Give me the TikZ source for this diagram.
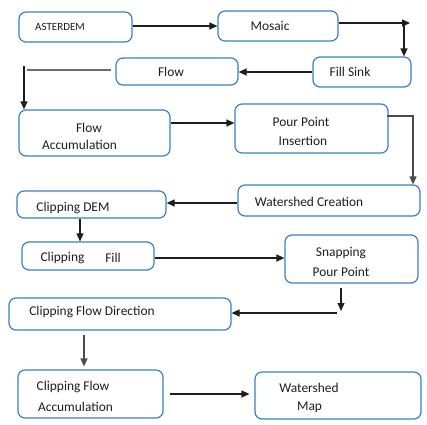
\documentclass[tikz,border=0pt]{standalone}
\usepackage{fontspec}
\setmainfont{Carlito}
\usetikzlibrary{arrows.meta}
\definecolor{boxblue}{HTML}{3A80C2}
\definecolor{ink}{HTML}{1E1E1E}
\tikzset{
  box/.style={draw=boxblue, line width=1.2pt, rounded corners=7pt, fill=white, inner sep=0pt},
  txt/.style={text=ink, inner sep=0pt, font=\fontsize{13.4}{16}\selectfont},
  small/.style={text=ink, inner sep=0pt, font=\fontsize{11}{13}\selectfont},
  arr/.style={draw=ink, line width=1.2pt, -{Triangle[length=8pt,width=7pt]}},
  ln/.style={draw=ink!80, line width=1.2pt}
}
\begin{document}
\begin{tikzpicture}[x=1pt,y=-1pt]
\useasboundingbox (0,0) rectangle (427,424);
% boxes
\node[box, minimum width=113pt, minimum height=30pt] (ast) at (75.5,27) {};
\node[box, minimum width=120pt, minimum height=30pt] (mos) at (278,26) {};
\node[box, minimum width=98pt, minimum height=30pt] (fs) at (362,72) {};
\node[box, minimum width=122pt, minimum height=27pt] (flow) at (177,71.5) {};
\node[box, minimum width=151pt, minimum height=46pt] (fa) at (94.5,133) {};
\node[box, minimum width=153pt, minimum height=49pt] (ppi) at (311.5,128.5) {};
\node[box, minimum width=182pt, minimum height=31pt] (wc) at (329,200.5) {};
\node[box, minimum width=149pt, minimum height=27pt] (cdem) at (91.5,204.5) {};
\node[box, minimum width=132pt, minimum height=28pt] (cf) at (88,256) {};
\node[box, minimum width=133pt, minimum height=48pt] (spp) at (351.5,259) {};
\node[box, minimum width=222pt, minimum height=32pt] (cfd) at (120,314) {};
\node[box, minimum width=145pt, minimum height=48pt] (cfa) at (90.5,394) {};
\node[box, minimum width=166pt, minimum height=47pt] (wm) at (338,395.5) {};
% texts
\node[small] (tast) at (60,26.5) {ASTERDEM};
\node[txt] (tmos) at (270,26) {Mosaic};
\node[txt] (tfs) at (350,72) {Fill Sink};
\node[txt] (tflow) at (171,72) {Flow};
\node[txt] (tfa1) at (89,128) {Flow};
\node[txt] (tfa2) at (79.5,145) {Accumulation};
\node[txt] (tppi1) at (301,122) {Pour Point};
\node[txt] (tppi2) at (303,141) {Insertion};
\node[txt] (twc) at (309,202) {Watershed Creation};
\node[txt] (tcdem) at (73,208) {Clipping DEM};
\node[txt] (tcf1) at (62.5,258) {Clipping};
\node[txt] (tcf2) at (113,258) {Fill};
\node[txt] (tspp1) at (341,253) {Snapping};
\node[txt] (tspp2) at (341,272) {Pour Point};
\node[txt] (tcfd) at (92,312) {Clipping Flow Direction};
\node[txt] (tcfa1) at (73,387) {Clipping Flow};
\node[txt] (tcfa2) at (75.5,407) {Accumulation};
\node[txt] (twm1) at (309,388) {Watershed};
\node[txt] (twm2) at (309.5,407) {Map};
% connectors
\draw[arr] (ast.east |- 0,26) -- (mos.west |- 0,26);
\coordinate (m1) at (410,23);
\coordinate (m2) at (404,23);
\draw[arr] (mos.east |- 0,23) -- (m1);
\draw[arr] (m2) -- (fs.north -| m2);
\draw[arr] (fs.west |- 0,72) -- (flow.east |- 0,72);
\coordinate (f1) at (27,70);
\coordinate (f2) at (24,66);
\draw[ln, draw=ink!65] ([xshift=-4pt]flow.west |- 0,70) -- (f1);
\draw[arr] (f2) -- (fa.north -| f2);
\draw[arr] (fa.east |- 0,123) -- (ppi.west |- 0,123);
\coordinate (p1) at (413,116);
\draw[arr, draw=ink!80] ([xshift=-2pt]ppi.east |- 0,116) -| (wc.north -| p1);
\draw[arr] (wc.west |- 0,203) -- (cdem.east |- 0,203);
\draw[arr] (cdem.south -| 80,0) -- (cf.north -| 80,0);
\draw[arr] (cf.east |- 0,258) -- (spp.west |- 0,258);
\coordinate (s1) at (341,311);
\coordinate (s2) at (337,313);
\draw[arr] ([yshift=-4pt]spp.south -| s1) -- (s1);
\draw[arr] (s2) -- (cfd.east |- s2);
\draw[arr, draw=ink!80] ([yshift=-4pt]cfd.south -| 84,0) -- ([yshift=3pt]cfa.north -| 84,0);
\draw[arr] ([xshift=6pt]cfa.east |- 0,394) -- ([xshift=-5pt]wm.west |- 0,394);
\end{tikzpicture}
\end{document}
